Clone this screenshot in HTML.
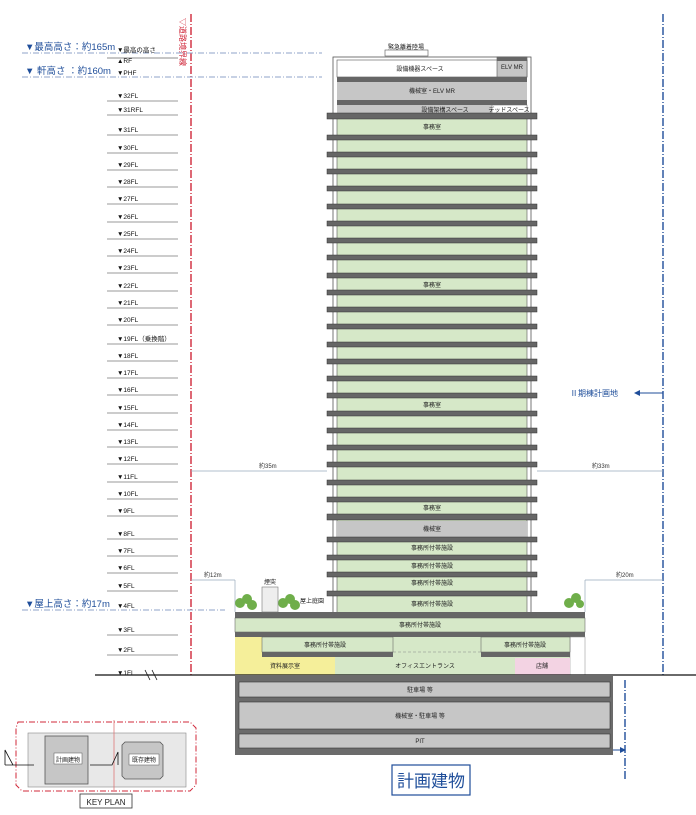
<!DOCTYPE html>
<html><head><meta charset="utf-8"><style>
body{margin:0;background:#fff;}
svg{display:block;font-family:"Liberation Sans","Noto Sans CJK JP",sans-serif;}
.fl{font-size:6.5px;fill:#111;}
.lb{font-size:6px;fill:#222;text-anchor:middle;}
</style></head><body>
<svg width="696" height="815" viewBox="0 0 696 815" xmlns="http://www.w3.org/2000/svg">
<line x1="191" y1="14" x2="191" y2="676" stroke="#d0283a" stroke-width="1.4" stroke-dasharray="8,2,1,2"/>
<text x="180" y="18" font-size="8" fill="#d0283a" transform="rotate(90 180 18)">▽道路境界線</text>
<line x1="663" y1="14" x2="663" y2="676" stroke="#1f4e9a" stroke-width="1.4" stroke-dasharray="8,2,1,2"/>
<line x1="625" y1="680" x2="625" y2="780" stroke="#1f4e9a" stroke-width="1.4" stroke-dasharray="8,2,1,2"/>
<line x1="22" y1="53" x2="322" y2="53" stroke="#8fa3c8" stroke-width="1" stroke-dasharray="6,2,1,2"/>
<line x1="22" y1="77" x2="322" y2="77" stroke="#8fa3c8" stroke-width="1" stroke-dasharray="6,2,1,2"/>
<line x1="22" y1="610" x2="225" y2="610" stroke="#8fa3c8" stroke-width="1" stroke-dasharray="6,2,1,2"/>
<text x="25" y="50" font-size="9.5" fill="#1f4e9a">▼最高高さ：約165m</text>
<text x="25" y="74" font-size="9.5" fill="#1f4e9a">▼ 軒高さ ：約160m</text>
<text x="25" y="607" font-size="9.5" fill="#1f4e9a">▼屋上高さ：約17m</text>
<g class="fl">
<text x="117" y="52">▼最高の高さ</text>
<text x="117" y="63">▲RF</text><line x1="107" y1="58" x2="178" y2="58" stroke="#666" stroke-width=".7"/>
<text x="117" y="75">▼PHF</text>
<text x="117" y="98">▼32FL</text>
<text x="117" y="112">▼31RFL</text>
<text x="117" y="132">▼31FL</text>
<text x="117" y="150">▼30FL</text>
<text x="117" y="167">▼29FL</text>
<text x="117" y="184">▼28FL</text>
<text x="117" y="201">▼27FL</text>
<text x="117" y="219">▼26FL</text>
<text x="117" y="236">▼25FL</text>
<text x="117" y="253">▼24FL</text>
<text x="117" y="270">▼23FL</text>
<text x="117" y="288">▼22FL</text>
<text x="117" y="305">▼21FL</text>
<text x="117" y="322">▼20FL</text>
<text x="117" y="341">▼19FL（乗換階）</text>
<text x="117" y="358">▼18FL</text>
<text x="117" y="375">▼17FL</text>
<text x="117" y="392">▼16FL</text>
<text x="117" y="410">▼15FL</text>
<text x="117" y="427">▼14FL</text>
<text x="117" y="444">▼13FL</text>
<text x="117" y="461">▼12FL</text>
<text x="117" y="479">▼11FL</text>
<text x="117" y="496">▼10FL</text>
<text x="117" y="513">▼9FL</text>
<text x="117" y="536">▼8FL</text>
<text x="117" y="553">▼7FL</text>
<text x="117" y="570">▼6FL</text>
<text x="117" y="588">▼5FL</text>
<text x="117" y="608">▼4FL</text>
<text x="117" y="632">▼3FL</text>
<text x="117" y="652">▼2FL</text>
<text x="117" y="675">▼1FL</text>
</g>
<g stroke="#777" stroke-width=".8">
<line x1="107" y1="101" x2="178" y2="101"/><line x1="107" y1="115" x2="178" y2="115"/><line x1="107" y1="135" x2="178" y2="135"/>
<line x1="107" y1="153" x2="178" y2="153"/><line x1="107" y1="170" x2="178" y2="170"/><line x1="107" y1="187" x2="178" y2="187"/>
<line x1="107" y1="204" x2="178" y2="204"/><line x1="107" y1="222" x2="178" y2="222"/><line x1="107" y1="239" x2="178" y2="239"/>
<line x1="107" y1="256" x2="178" y2="256"/><line x1="107" y1="273" x2="178" y2="273"/><line x1="107" y1="291" x2="178" y2="291"/>
<line x1="107" y1="308" x2="178" y2="308"/><line x1="107" y1="325" x2="178" y2="325"/><line x1="107" y1="344" x2="178" y2="344"/>
<line x1="107" y1="361" x2="178" y2="361"/><line x1="107" y1="378" x2="178" y2="378"/><line x1="107" y1="395" x2="178" y2="395"/>
<line x1="107" y1="413" x2="178" y2="413"/><line x1="107" y1="430" x2="178" y2="430"/><line x1="107" y1="447" x2="178" y2="447"/>
<line x1="107" y1="464" x2="178" y2="464"/><line x1="107" y1="482" x2="178" y2="482"/><line x1="107" y1="499" x2="178" y2="499"/>
<line x1="107" y1="516" x2="178" y2="516"/><line x1="107" y1="539" x2="178" y2="539"/><line x1="107" y1="556" x2="178" y2="556"/>
<line x1="107" y1="573" x2="178" y2="573"/><line x1="107" y1="591" x2="178" y2="591"/><line x1="107" y1="635" x2="178" y2="635"/>
<line x1="107" y1="655" x2="178" y2="655"/>
</g>
<rect x="333" y="57" width="198" height="60" fill="#fff" stroke="#555" stroke-width=".8"/>
<rect x="385" y="50" width="43" height="6" fill="#fff" stroke="#555" stroke-width=".6"/>
<text x="406" y="49" class="lb" font-size="4.5">緊急離着陸場</text>
<rect x="337" y="60" width="190" height="17" fill="#fff" stroke="#555" stroke-width=".6"/>
<text x="420" y="71" class="lb">設備機器スペース</text>
<rect x="497" y="57" width="30" height="20" fill="#c6c6c6" stroke="#555" stroke-width=".6"/>
<rect x="497" y="57" width="30" height="4" fill="#666"/>
<text x="512" y="69" class="lb">ELV MR</text>
<rect x="337" y="77" width="190" height="5" fill="#666"/>
<rect x="337" y="82" width="190" height="18" fill="#c6c6c6"/>
<text x="432" y="93" class="lb">機械室・ELV MR</text>
<rect x="337" y="100" width="190" height="5" fill="#666"/>
<rect x="337" y="105" width="190" height="9" fill="#c6c6c6"/>
<rect x="492" y="105" width="35" height="9" fill="#fff" stroke="#666" stroke-width=".5"/>
<text x="445" y="112" class="lb">設備架構スペース</text>
<text x="509" y="112" class="lb" font-size="5">デッドスペース</text>
<rect x="333" y="117" width="198" height="496" fill="#fff" stroke="#555" stroke-width=".8"/>
<rect x="337" y="117" width="190" height="496" fill="#d6e8c8" stroke="#555" stroke-width=".6"/>
<rect x="337" y="521" width="190" height="18" fill="#c6c6c6"/>
<g fill="#666" stroke="#333" stroke-width=".5">
<rect x="327" y="113" width="210" height="6"/><rect x="327" y="135" width="210" height="5"/>
<rect x="327" y="152" width="210" height="5"/><rect x="327" y="169" width="210" height="5"/>
<rect x="327" y="186" width="210" height="5"/><rect x="327" y="204" width="210" height="5"/>
<rect x="327" y="221" width="210" height="5"/><rect x="327" y="238" width="210" height="5"/>
<rect x="327" y="255" width="210" height="5"/><rect x="327" y="273" width="210" height="5"/>
<rect x="327" y="290" width="210" height="5"/><rect x="327" y="307" width="210" height="5"/>
<rect x="327" y="324" width="210" height="5"/><rect x="327" y="342" width="210" height="5"/>
<rect x="327" y="359" width="210" height="5"/><rect x="327" y="376" width="210" height="5"/>
<rect x="327" y="393" width="210" height="5"/><rect x="327" y="411" width="210" height="5"/>
<rect x="327" y="428" width="210" height="5"/><rect x="327" y="445" width="210" height="5"/>
<rect x="327" y="462" width="210" height="5"/><rect x="327" y="480" width="210" height="5"/>
<rect x="327" y="497" width="210" height="5"/><rect x="327" y="514" width="210" height="6"/>
<rect x="327" y="537" width="210" height="5"/><rect x="327" y="555" width="210" height="5"/>
<rect x="327" y="572" width="210" height="5"/><rect x="327" y="591" width="210" height="5"/>
</g>
<g class="lb">
<text x="432" y="129">事務室</text><text x="432" y="287">事務室</text><text x="432" y="407">事務室</text>
<text x="432" y="510">事務室</text><text x="432" y="531">機械室</text>
<text x="432" y="550">事務所付帯施設</text><text x="432" y="568">事務所付帯施設</text>
<text x="432" y="585">事務所付帯施設</text><text x="432" y="606">事務所付帯施設</text>
</g>
<g stroke="#9ab" stroke-width=".7">
<line x1="191" y1="471" x2="327" y2="471"/><line x1="537" y1="471" x2="663" y2="471"/>
<line x1="191" y1="580" x2="235" y2="580"/><line x1="585" y1="580" x2="663" y2="580"/>
<line x1="235" y1="580" x2="235" y2="612"/><line x1="585" y1="580" x2="585" y2="612"/>
</g>
<text x="259" y="468" font-size="6" fill="#333">約35m</text>
<text x="592" y="468" font-size="6" fill="#333">約33m</text>
<text x="204" y="577" font-size="6" fill="#333">約12m</text>
<text x="616" y="577" font-size="6" fill="#333">約20m</text>
<text x="570" y="396" font-size="8" fill="#1f4e9a">Ⅱ期棟計画地</text>
<line x1="640" y1="393" x2="663" y2="393" stroke="#1f4e9a" stroke-width="1"/>
<path d="M640 390 L634 393 L640 396Z" fill="#1f4e9a"/>
<text x="530" y="753" font-size="8" fill="#1f4e9a">Ⅱ期棟計画地</text>
<line x1="600" y1="750" x2="622" y2="750" stroke="#1f4e9a" stroke-width="1"/>
<path d="M620 747 L626 750 L620 753Z" fill="#1f4e9a"/>
<rect x="235" y="612" width="350" height="6" fill="#666"/>
<rect x="235" y="618" width="350" height="14" fill="#d6e8c8" stroke="#555" stroke-width=".5"/>
<text x="420" y="627" class="lb">事務所付帯施設</text>
<rect x="235" y="632" width="350" height="5" fill="#666"/>
<rect x="235" y="637" width="335" height="38" fill="#d6e8c8"/>
<rect x="570" y="637" width="15" height="38" fill="#fff" stroke="#888" stroke-width=".5"/>
<rect x="235" y="637" width="100" height="38" fill="#f5ef9a"/>
<rect x="515" y="658" width="55" height="17" fill="#f3d3e3"/>
<rect x="262" y="637" width="131" height="15" fill="#d6e8c8" stroke="#555" stroke-width=".5"/>
<rect x="262" y="652" width="131" height="5" fill="#666"/>
<rect x="481" y="637" width="89" height="15" fill="#d6e8c8" stroke="#555" stroke-width=".5"/>
<rect x="481" y="652" width="89" height="5" fill="#666"/>
<line x1="393" y1="652" x2="481" y2="652" stroke="#888" stroke-width=".5" stroke-dasharray="3,2"/>
<g class="lb"><text x="325" y="647">事務所付帯施設</text><text x="525" y="647">事務所付帯施設</text>
<text x="285" y="668">資料展示室</text><text x="425" y="668">オフィスエントランス</text><text x="542" y="668">店舗</text></g>
<g fill="#6fae4a"><circle cx="240" cy="603" r="5"/><circle cx="247" cy="599" r="5"/><circle cx="252" cy="605" r="5"/>
<circle cx="283" cy="603" r="5"/><circle cx="290" cy="599" r="5"/><circle cx="295" cy="605" r="5"/>
<circle cx="569" cy="603" r="5"/><circle cx="576" cy="598" r="5"/><circle cx="580" cy="604" r="4"/></g>
<rect x="262" y="587" width="16" height="25" fill="#eee" stroke="#777" stroke-width=".6"/>
<text x="270" y="584" class="lb">煙突</text>
<text x="300" y="603" font-size="6" fill="#222">屋上庭園</text>
<line x1="95" y1="675" x2="696" y2="675" stroke="#111" stroke-width="1.2"/>
<path d="M145 670 L150 680 M152 670 L157 680" stroke="#111" stroke-width=".8"/>
<rect x="235" y="675" width="378" height="80" fill="#6b6b6b"/>
<rect x="239" y="682" width="371" height="15" fill="#c6c6c6" stroke="#333" stroke-width=".6"/>
<rect x="239" y="702" width="371" height="27" fill="#c6c6c6" stroke="#333" stroke-width=".6"/>
<rect x="239" y="734" width="371" height="14" fill="#c6c6c6" stroke="#333" stroke-width=".6"/>
<g class="lb"><text x="420" y="692">駐車場 等</text><text x="420" y="718">機械室・駐車場 等</text><text x="420" y="743">PIT</text></g>
<rect x="392" y="765" width="78" height="30" fill="#fff" stroke="#1f4e9a" stroke-width="1.2"/>
<text x="431" y="787" font-size="17" fill="#1f4e9a" text-anchor="middle">計画建物</text>
<rect x="28" y="733" width="158" height="54" fill="#e8e8e8" stroke="#888" stroke-width=".6"/>
<rect x="45" y="736" width="43" height="48" fill="#c6c6c6" stroke="#555" stroke-width=".8"/>
<rect x="54" y="753" width="28" height="11" fill="#fff" stroke="#555" stroke-width=".5"/>
<text x="68" y="762" class="lb" font-size="7">計画建物</text>
<path d="M125 742 L160 742 L163 745 L163 776 L160 779 L125 779 L122 776 L122 745Z" fill="#c6c6c6" stroke="#555" stroke-width=".8"/>
<rect x="129" y="754" width="30" height="11" fill="#fff" stroke="#555" stroke-width=".5"/>
<text x="144" y="762" class="lb" font-size="7">既存建物</text>
<path d="M18 722 L190 722 L196 728 L196 785 L190 791 L22 791 L16 785 L16 728Z" fill="none" stroke="#d0283a" stroke-width="1" stroke-dasharray="6,2,1,2"/>
<line x1="114" y1="720" x2="114" y2="790" stroke="#d77" stroke-width=".8"/>
<path d="M5 765 L34 765 M5 765 L5 750 L13 765" stroke="#111" fill="none" stroke-width=".8"/>
<path d="M90 765 L112 765 L118 752 L118 765" stroke="#111" fill="none" stroke-width=".8"/>
<rect x="80" y="794" width="52" height="14" fill="#fff" stroke="#333" stroke-width=".8"/>
<text x="106" y="805" font-size="8" fill="#222" text-anchor="middle">KEY PLAN</text>
</svg>
</body></html>
